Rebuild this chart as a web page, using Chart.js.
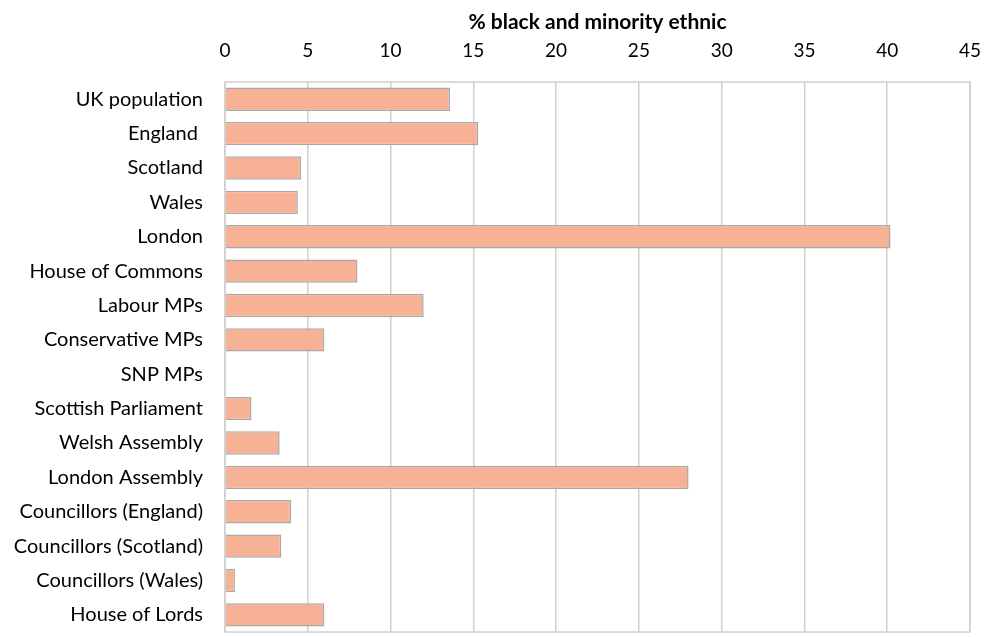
<!DOCTYPE html>
<html><head><meta charset="utf-8">
<script src="https://cdn.jsdelivr.net/npm/chart.js@4"></script>
<style>html,body{margin:0;padding:0;background:#fff}#wrap{width:991px;height:637px}</style>
</head><body><div id="wrap"><canvas id="c" width="991" height="637"></canvas></div>
<script>
const categories = ["UK population","England ","Scotland","Wales","London","House of Commons","Labour MPs","Conservative MPs","SNP MPs","Scottish Parliament","Welsh Assembly","London Assembly","Councillors (England)","Councillors (Scotland)","Councillors (Wales)","House of Lords"];
const bmePercent = [13.6,15.3,4.6,4.4,40.2,8.0,12.0,6.0,0,1.6,3.3,28.0,4.0,3.4,0.6,6.0];
const axisTitle = "% black and minority ethnic";
const xMin = 0, xMax = 45, xStep = 5;

const frame = {id:'frame', afterDatasetsDraw(ch){const a=ch.chartArea,c=ch.ctx;c.save();c.strokeStyle='#D0D0D0';c.lineWidth=1.5;c.strokeRect(a.left,a.top,a.right-a.left,a.bottom-a.top);c.restore();}};
const FONT = "Lato, 'Open Sans', sans-serif";
new Chart(document.getElementById('c'), {
  type:'bar',
  data:{labels:categories, datasets:[{data:bmePercent, backgroundColor:'#F7B296', borderColor:'#A8A8A8', borderWidth:1.5, barPercentage:0.85, categoryPercentage:0.8}]},
  options:{
    indexAxis:'y', responsive:false, animation:false,
    layout:{padding:{top:0,right:21,bottom:5,left:0}},
    plugins:{legend:{display:false}, tooltip:{enabled:false}},
    scales:{
      x:{position:'top', min:xMin, max:xMax,
        ticks:{stepSize:xStep, color:'#000', font:{family:FONT,size:19}, padding:20},
        grid:{color:'#D0D0D0', lineWidth:1.5, drawTicks:false},
        border:{display:false},
        title:{display:true, text:axisTitle, color:'#000', font:{family:FONT,size:21,weight:'bold'}, padding:{top:10,bottom:0}},
        afterFit(s){s.height=82; s.paddingLeft=0; s.paddingRight=0;}
      },
      y:{grid:{display:false}, border:{display:false},
        ticks:{color:'#000', font:{family:FONT,size:20}, padding:14, autoSkip:false},
        afterFit(s){s.width=225; s.paddingTop=0; s.paddingBottom=0;}
      }
    }
  },
  plugins:[frame]
});
</script></body></html>
